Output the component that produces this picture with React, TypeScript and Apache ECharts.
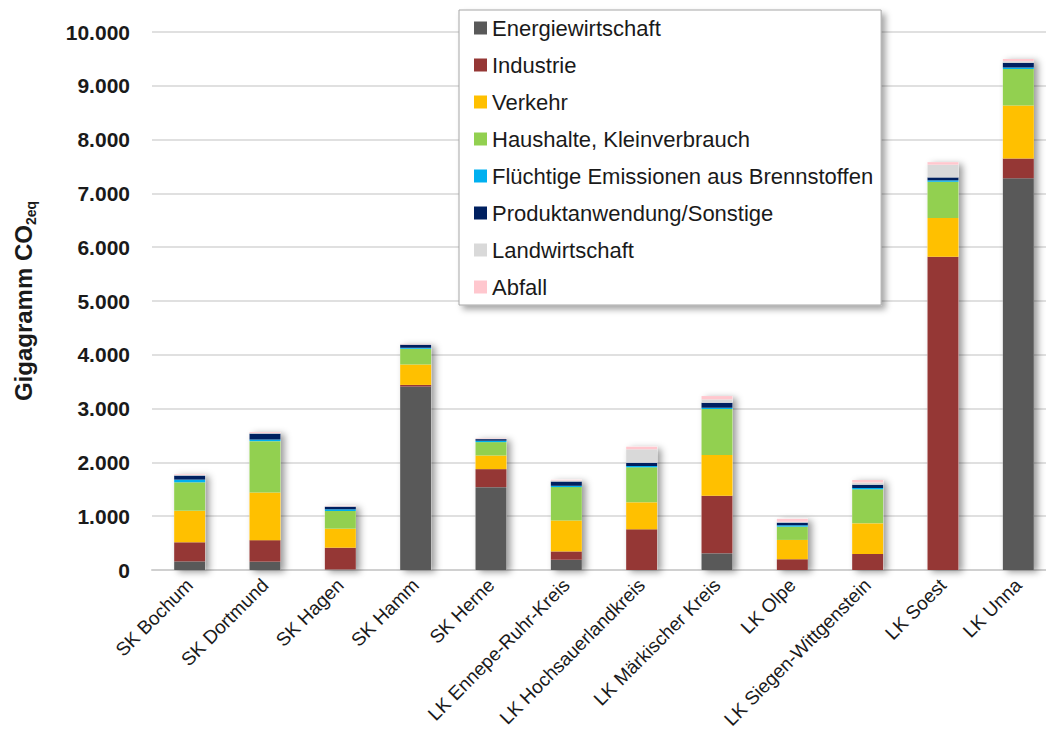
import React, { useEffect, useRef } from "react";
import * as echarts from "echarts";

const categories = [
  "SK Bochum",
  "SK Dortmund",
  "SK Hagen",
  "SK Hamm",
  "SK Herne",
  "LK Ennepe-Ruhr-Kreis",
  "LK Hochsauerlandkreis",
  "LK Märkischer Kreis",
  "LK Olpe",
  "LK Siegen-Wittgenstein",
  "LK Soest",
  "LK Unna",
];

const energiewirtschaft = [160, 155, 10, 3410, 1540, 190, 0, 310, 0, 0, 0, 7280];
const industrie = [355, 400, 405, 30, 335, 155, 756, 1070, 200, 297, 5824, 370];
const verkehr = [587, 886, 353, 380, 253, 576, 502, 757, 359, 570, 717, 986];
const haushalte = [528, 954, 329, 292, 249, 620, 651, 855, 247, 633, 675, 676];
const fluechtige = [50, 30, 31, 18, 26, 24, 24, 24, 25, 24, 27, 27];
const produkt = [75, 110, 49, 57, 30, 80, 62, 93, 50, 62, 54, 88];
const landwirtschaft = [12, 15, 8, 8, 10, 20, 248, 62, 15, 40, 237, 30];
const abfall = [12, 15, 8, 8, 8, 12, 49, 62, 55, 47, 47, 40];

const yTicks = [0, 1000, 2000, 3000, 4000, 5000, 6000, 7000, 8000, 9000, 10000];

const seriesDefs = [
  { name: "Energiewirtschaft", data: energiewirtschaft, color: "#595959" },
  { name: "Industrie", data: industrie, color: "#953735" },
  { name: "Verkehr", data: verkehr, color: "#FFC000" },
  { name: "Haushalte, Kleinverbrauch", data: haushalte, color: "#92D050" },
  { name: "Flüchtige Emissionen aus Brennstoffen", data: fluechtige, color: "#00B0F0" },
  { name: "Produktanwendung/Sonstige", data: produkt, color: "#002060" },
  { name: "Landwirtschaft", data: landwirtschaft, color: "#D9D9D9" },
  { name: "Abfall", data: abfall, color: "#FFC7CE" },
];

const FONT = "'Liberation Sans', Arial, sans-serif";

function fmt(v: number): string {
  return String(v).replace(/\B(?=(\d{3})+(?!\d))/g, ".");
}

export default function App() {
  const ref = useRef<HTMLDivElement>(null);
  useEffect(() => {
    if (!ref.current) return;
    const chart = echarts.init(ref.current, undefined, { renderer: "svg" });
    const totals = categories.map((_, i) =>
      seriesDefs.reduce((s, d) => s + d.data[i], 0)
    );
    chart.setOption({
      animation: false,
      backgroundColor: "#ffffff",
      textStyle: { fontFamily: FONT },
      grid: { left: 144, right: 0, top: 32, bottom: 170, containLabel: false },
      legend: {
        orient: "vertical",
        left: 459,
        top: 10,
        data: seriesDefs.map((d) => d.name),
        itemWidth: 13,
        itemHeight: 13,
        itemGap: 15,
        icon: "rect",
        padding: [7, 8, 7, 15],
        backgroundColor: "#ffffff",
        borderColor: "#a6a6a6",
        borderWidth: 1,
        shadowColor: "rgba(0,0,0,0.35)",
        shadowBlur: 6,
        shadowOffsetX: 4,
        shadowOffsetY: 4,
        textStyle: { fontFamily: FONT, fontSize: 22, color: "#1a1a1a" },
      },
      xAxis: {
        type: "category",
        data: categories,
        axisLine: { lineStyle: { color: "#d0d0d0", width: 2 } },
        axisTick: { show: false },
        axisLabel: {
          rotate: 45,
          interval: 0,
          margin: 12,
          fontFamily: FONT,
          fontSize: 19,
          color: "#1a1a1a",
        },
      },
      yAxis: {
        type: "value",
        min: 0,
        max: 10000,
        interval: 1000,
        name: "Gigagramm CO{sub|2eq}",
        nameLocation: "middle",
        nameGap: 114,
        nameTextStyle: {
          fontFamily: FONT,
          fontSize: 24,
          fontWeight: "bold",
          color: "#1a1a1a",
          lineHeight: 30,
          rich: {
            sub: {
              fontFamily: FONT,
              fontSize: 14,
              fontWeight: "bold",
              color: "#1a1a1a",
              verticalAlign: "bottom",
              lineHeight: 30,
              padding: [10, 0, 0, 0],
            },
          },
        },
        axisLine: { show: false },
        axisTick: { show: false },
        splitLine: { lineStyle: { color: "#d6d6d6", width: 1.5 } },
        axisLabel: {
          margin: 22,
          fontFamily: FONT,
          fontSize: 21,
          fontWeight: "bold",
          color: "#1a1a1a",
          formatter: (v: number) => (yTicks.includes(v) ? fmt(v) : ""),
        },
      },
      series: [
        {
          name: "shadow",
          type: "bar",
          stack: "shadow",
          data: totals,
          barWidth: 31,
          barGap: "-100%",
          silent: true,
          itemStyle: {
            color: "#ffffff",
            shadowColor: "rgba(0,0,0,0.4)",
            shadowBlur: 7,
            shadowOffsetX: 4,
            shadowOffsetY: 2,
          },
          z: 1,
        },
        ...seriesDefs.map((d) => ({
          name: d.name,
          type: "bar",
          stack: "total",
          data: d.data,
          barWidth: 31,
          barGap: "-100%",
          itemStyle: { color: d.color },
          z: 2,
        })),
      ],
    });
    return () => chart.dispose();
  }, []);
  return (
    <div
      style={{
        position: "fixed",
        left: 0,
        top: 0,
        width: 1046,
        height: 740,
        overflow: "hidden",
        background: "#fff",
      }}
    >
      <div ref={ref} style={{ width: 1056, height: 740 }} />
    </div>
  );
}
